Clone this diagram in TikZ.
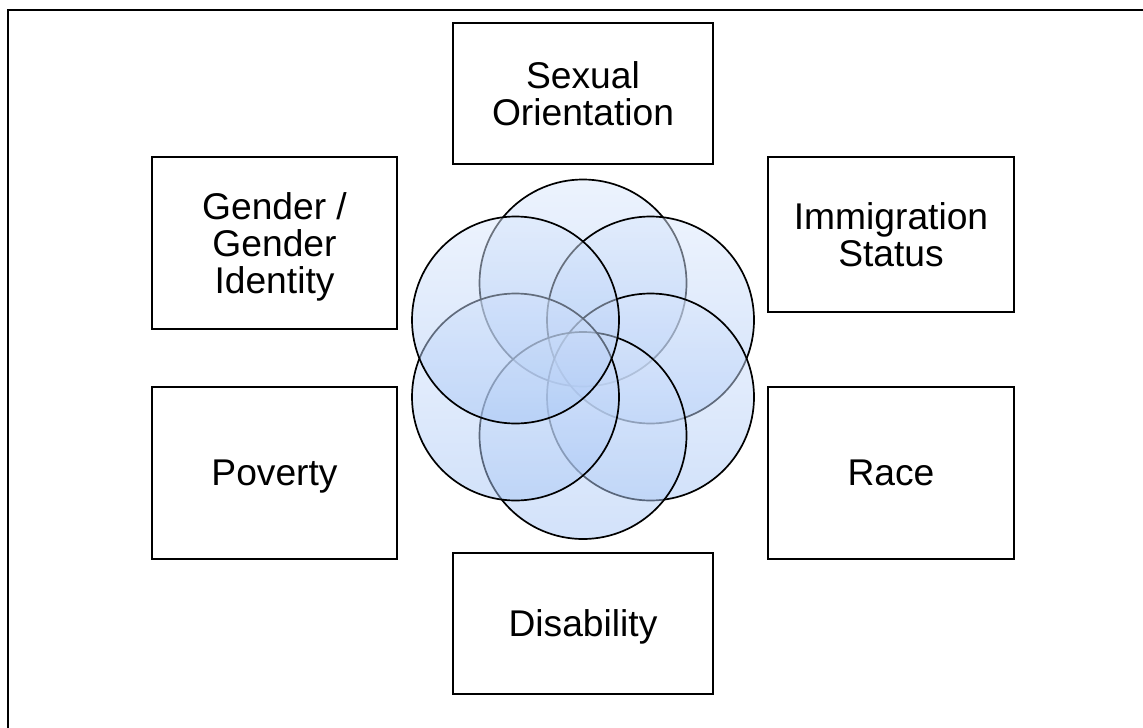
\documentclass[tikz,border=0pt]{standalone}
\usepackage{fontspec}
\setmainfont{Liberation Sans}
\definecolor{ringtop}{HTML}{DAE7FC}
\definecolor{ringbot}{HTML}{A6C5F5}
\begin{document}
\begin{tikzpicture}[x=0.5pt,y=-0.5pt,
  box/.style 2 args={draw=black, line width=0.8pt, minimum width=#1*0.5pt,
    minimum height=#2*0.5pt, inner sep=0pt},
  lbl/.style={font=\fontsize{18.6}{18.65}\selectfont, align=center,
    text depth=0pt, inner sep=0pt},
  ring/.style={top color=ringtop, bottom color=ringbot, fill opacity=0.5,
    draw=black, draw opacity=1, line width=0.85pt}]
  \useasboundingbox (0,0) rectangle (1143,727);
  \clip (0,0) rectangle (1143,727);
  % outer frame, running past the right and bottom edges
  \draw[line width=1pt] (7.5,10.5) rectangle (1180,760);

  % category boxes
  \node[box={260}{141}] (so) at (583,93.5) {};
  \node[box={245}{172}] (gi) at (274.5,243) {};
  \node[box={246}{155}] (im) at (891,234.5) {};
  \node[box={245}{172}] (po) at (274.5,473) {};
  \node[box={246}{172}] (ra) at (891,473) {};
  \node[box={260}{141}] (di) at (583,623.5) {};

  \node[lbl] (so-t) at (so.center) {Sexual\\Orientation};
  \node[lbl] (gi-t) at (gi.center) {Gender /\\Gender\\Identity};
  \node[lbl] (im-t) at (im.center) {Immigration\\Status};
  \node[lbl] (po-t) at (po.center) {Poverty};
  \node[lbl] (ra-t) at (ra.center) {Race};
  \node[lbl] (di-t) at (di.center) {Disability};

  % overlapping translucent circles, drawn clockwise from the top
  \foreach \cx/\cy in {583/283, 650.5/320, 650.5/397, 583/435.5, 515.5/397, 515.5/320}
    \path[ring] (\cx,\cy) circle[radius=103.5];
\end{tikzpicture}
\end{document}
